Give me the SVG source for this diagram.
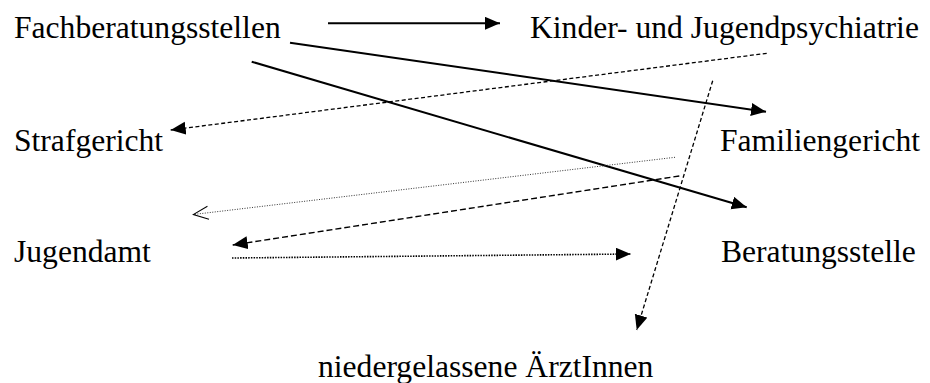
<svg xmlns="http://www.w3.org/2000/svg" width="930" height="383" viewBox="0 0 930 383">
<style>
text { font-family: "Liberation Serif", "Times New Roman", serif; font-size: 31.6px; fill: #000; }
.solid { stroke: #000; stroke-width: 2; fill: none; }
.dash { stroke: #000; stroke-width: 1.3; stroke-dasharray: 4 2.5; fill: none; }
.dashlong { stroke: #000; stroke-width: 1.4; stroke-dasharray: 6 3; fill: none; }
.dotsparse { stroke: #333; stroke-width: 1; stroke-dasharray: 1 1.5; fill: none; }
.dotdense { stroke: #000; stroke-width: 1.6; stroke-dasharray: 1.5 1.2; fill: none; }
</style>
<defs>
<marker id="tri" markerUnits="userSpaceOnUse" markerWidth="16" markerHeight="14" refX="15" refY="6.5" orient="auto">
<path d="M0,0 L15,6.5 L0,13 Z" fill="#000"/>
</marker>
<marker id="open" markerUnits="userSpaceOnUse" markerWidth="18" markerHeight="16" refX="16" refY="7.5" orient="auto">
<path d="M1,1 L16,7.5 L1,14" fill="none" stroke="#000" stroke-width="1"/>
</marker>
</defs>
<g id="n-fach"><text x="14" y="38">Fachberatungsstellen</text></g>
<g id="n-kjp"><text x="530" y="38">Kinder- und Jugendpsychiatrie</text></g>
<g id="n-straf"><text x="14" y="151">Strafgericht</text></g>
<g id="n-fam"><text x="720" y="151">Familiengericht</text></g>
<g id="n-jug"><text x="14" y="262">Jugendamt</text></g>
<g id="n-ber"><text x="721" y="262">Beratungsstelle</text></g>
<g id="n-arzt"><text x="318" y="377">niedergelassene ÄrztInnen</text></g>
<g id="connectors">
<line class="solid" x1="328" y1="23.3" x2="500" y2="23.3" marker-end="url(#tri)"/>
<line class="solid" x1="290" y1="42.7" x2="766" y2="111.7" marker-end="url(#tri)"/>
<line class="solid" x1="251.7" y1="61.7" x2="746.7" y2="207.3" marker-end="url(#tri)"/>
<line class="dash" x1="766.7" y1="53.3" x2="170.7" y2="130" marker-end="url(#tri)"/>
<line class="dash" x1="712.7" y1="80.7" x2="636.7" y2="330" marker-end="url(#tri)"/>
<line class="dotsparse" x1="675" y1="157.3" x2="193.3" y2="214.5" marker-end="url(#open)"/>
<line class="dashlong" x1="679.3" y1="176" x2="232.7" y2="245" marker-end="url(#tri)"/>
<line class="dotdense" x1="232" y1="258" x2="630.7" y2="254" marker-end="url(#tri)"/>
</g>
</svg>
